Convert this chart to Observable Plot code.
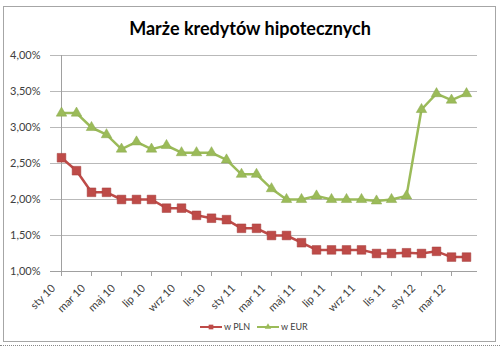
<!DOCTYPE html>
<html>
<head>
<meta charset="utf-8">
<script src="https://cdn.jsdelivr.net/npm/d3@7"></script>
<script src="https://cdn.jsdelivr.net/npm/@observablehq/plot@0.6"></script>
<style>
  html, body { margin: 0; padding: 0; background: #fff; width: 500px; height: 351px; overflow: hidden; }
  body { position: relative; font-family: Lato, "Open Sans", sans-serif; }
  #frame { position: absolute; left: 3px; top: 6px; width: 493px; height: 336px; border: 1px solid #a6a6a6; box-sizing: border-box; }
  #dots { position: absolute; left: 0; top: 345px; width: 500px; height: 0; border-top: 1px dotted #888; }
  #title { position: absolute; left: 0; top: 17px; width: 500px; text-align: center; font-size: 18px; font-weight: 700; color: #000; }
  #chart { position: absolute; left: 0; top: 45px; }
  #legend { position: absolute; left: 0; top: 320px; width: 500px; height: 14px; }
  .lg { position: absolute; top: 0; font-size: 9px; color: #404040; line-height: 14px; }
</style>
</head>
<body>
<div id="frame"></div>
<div id="dots"></div>
<div id="title">Marże kredytów hipotecznych</div>
<div id="chart"></div>
<div id="legend"></div>
<script>
const months = ["sty 10","lut 10","mar 10","kwi 10","maj 10","cze 10","lip 10","sie 10","wrz 10","paź 10","lis 10","gru 10",
                "sty 11","lut 11","mar 11","kwi 11","maj 11","cze 11","lip 11","sie 11","wrz 11","paź 11","lis 11","gru 11",
                "sty 12","lut 12","mar 12","kwi 12"];
const pln = [2.58,2.40,2.10,2.10,2.00,2.00,2.00,1.88,1.88,1.78,1.74,1.72,
             1.60,1.60,1.50,1.50,1.40,1.30,1.30,1.30,1.30,1.25,1.25,1.26,
             1.25,1.28,1.20,1.20];
const eur = [3.20,3.20,3.00,2.90,2.70,2.80,2.70,2.75,2.65,2.65,2.65,2.55,
             2.35,2.35,2.15,2.00,2.00,2.05,2.00,2.00,2.00,1.98,2.00,2.05,
             3.25,3.47,3.38,3.47];
const yTicks = [1.0,1.5,2.0,2.5,3.0,3.5,4.0];
const xTicks = months.filter((d, i) => i % 2 === 0);
const seriesNames = ["w PLN", "w EUR"];
const seriesColors = ["#BE4B48", "#9BBB59"];

const rows = [];
months.forEach((m, i) => {
  rows.push({month: m, value: pln[i], series: seriesNames[0]});
  rows.push({month: m, value: eur[i], series: seriesNames[1]});
});
const plnRows = rows.filter(d => d.series === seriesNames[0]);
const eurRows = rows.filter(d => d.series === seriesNames[1]);
const fmt = d => d.toFixed(2).replace(".", ",") + "%";

const chart = Plot.plot({
  width: 500,
  height: 272,
  marginLeft: 50,
  marginRight: 23,
  marginTop: 10,
  marginBottom: 46,
  style: {fontFamily: "Lato, 'Open Sans', sans-serif", fontSize: "11px", color: "#404040", background: "transparent"},
  x: {type: "point", domain: months, padding: 0},
  y: {domain: [1, 4]},
  marks: [
    Plot.gridY(yTicks, {stroke: "#b9b9b9", strokeOpacity: 1, strokeWidth: 1}),
    Plot.ruleY([1], {stroke: "#a0a0a0"}),
    Plot.ruleX([months[0]], {stroke: "#a0a0a0"}),
    Plot.axisY(yTicks, {tickSize: 0, tickPadding: 10, tickFormat: fmt, label: null, fill: "#404040"}),
    Plot.axisX(xTicks, {tickSize: 5, label: null, stroke: "#a0a0a0", text: null}),
    Plot.axisX(xTicks, {tickRotate: -45, tickSize: 0, tickPadding: 0, dx: -8, dy: 15, label: null, fill: "#404040", fontSize: 11}),
    Plot.line(plnRows, {x: "month", y: "value", stroke: seriesColors[0], strokeWidth: 2.5}),
    Plot.dot(plnRows, {x: "month", y: "value", symbol: "square", r: 4.9, fill: seriesColors[0], stroke: "#a33d3a", strokeWidth: 0.5}),
    Plot.line(eurRows, {x: "month", y: "value", stroke: seriesColors[1], strokeWidth: 2.5}),
    Plot.dot(eurRows, {x: "month", y: "value", symbol: "triangle", r: 3.9, fill: seriesColors[1], stroke: "#8aa84e", strokeWidth: 0.5})
  ]
});
document.getElementById("chart").appendChild(chart);

// legend
const legend = document.getElementById("legend");
const lx = [200, 257];
seriesNames.forEach((name, k) => {
  const svg = d3.create("svg").attr("width", 24).attr("height", 14)
    .style("position", "absolute").style("left", lx[k] + "px").style("top", "0px");
  svg.append("line").attr("x1", 0).attr("x2", 22).attr("y1", 7).attr("y2", 7)
    .attr("stroke", seriesColors[k]).attr("stroke-width", 2);
  svg.append("path").attr("transform", "translate(11,7)")
    .attr("d", d3.symbol(k === 0 ? d3.symbolSquare : d3.symbolTriangle, k === 0 ? 22 : 18)())
    .attr("fill", seriesColors[k]);
  legend.appendChild(svg.node());
  const t = document.createElement("div");
  t.className = "lg";
  t.style.left = (lx[k] + 24) + "px";
  t.textContent = name;
  legend.appendChild(t);
});
</script>
</body>
</html>
